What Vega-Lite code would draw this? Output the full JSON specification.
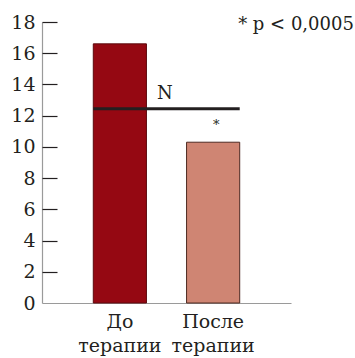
{
  "$schema": "https://vega.github.io/schema/vega-lite/v6.json",
  "autosize": "none",
  "width": 249,
  "height": 281,
  "padding": {"left": 42, "top": 22, "right": 64, "bottom": 55},
  "background": "white",
  "config": {
    "view": {"stroke": null},
    "font": "DejaVu Serif",
    "text": {"font": "DejaVu Serif"},
    "axis": {"labelFont": "DejaVu Serif", "labelColor": "#231f20", "grid": false, "title": null}
  },
  "datasets": {
    "bars": [
      {"group": "До терапии", "value": 16.6},
      {"group": "После терапии", "value": 10.3}
    ],
    "ticks": [
      {"value": 0}, {"value": 18}
    ],
    "norm": [
      {"from": "До терапии", "to": "После терапии", "value": 12.45, "label": "N"}
    ],
    "notes": [
      {"group": "После терапии", "value": 10.3, "label": "*"}
    ],
    "sig": [
      {"group": "После терапии", "value": 18, "label": "* p < 0,0005"}
    ]
  },
  "resolve": {"axis": {"y": "independent"}},
  "layer": [
    {
      "data": {"name": "bars"},
      "mark": {"type": "bar", "strokeWidth": 1},
      "encoding": {
        "x": {
          "field": "group", "type": "nominal", "sort": null,
          "scale": {"paddingInner": 0.43, "paddingOuter": 0.55},
          "axis": {
            "labelAngle": 0, "ticks": false, "domainColor": "#9a9a9a", "domainWidth": 1.2,
            "labelFontSize": 19, "labelPadding": 9, "labelLineHeight": 24,
            "labelExpr": "split(datum.label, ' ')"
          }
        },
        "y": {
          "field": "value", "type": "quantitative",
          "scale": {"domain": [0, 18], "nice": false},
          "axis": {
            "values": [0, 2, 4, 6, 8, 10, 12, 14, 16, 18],
            "labelOverlap": false,
            "domainColor": "#9a9a9a", "domainWidth": 1.2,
            "ticks": false,
            "labelFontSize": 19, "labelPadding": 7
          }
        },
        "fill": {
          "field": "group", "type": "nominal", "legend": null,
          "scale": {"domain": ["До терапии", "После терапии"], "range": ["#950812", "#cf8573"]}
        },
        "stroke": {
          "field": "group", "type": "nominal", "legend": null,
          "scale": {"domain": ["До терапии", "После терапии"], "range": ["#5c0a0e", "#4e2a22"]}
        }
      }
    },
    {
      "data": {"name": "ticks"},
      "mark": {"type": "point", "opacity": 0},
      "encoding": {
        "y": {
          "field": "value", "type": "quantitative",
          "axis": {
            "orient": "left",
            "values": [2, 4, 6, 8, 10, 12, 14, 16, 18],
            "offset": -15, "domain": false, "labels": false,
            "tickSize": 15, "tickWidth": 1.2, "tickColor": "#231f20"
          }
        }
      }
    },
    {
      "data": {"name": "norm"},
      "mark": {"type": "rule", "strokeWidth": 3, "color": "#231f20"},
      "encoding": {
        "x": {"field": "from", "type": "nominal", "bandPosition": 0},
        "x2": {"field": "to", "bandPosition": 1},
        "y": {"field": "value", "type": "quantitative", "axis": null}
      }
    },
    {
      "data": {"name": "norm"},
      "mark": {"type": "text", "fontSize": 18, "align": "center", "baseline": "alphabetic", "dx": 45, "dy": -10, "color": "#231f20"},
      "encoding": {
        "x": {"field": "from", "type": "nominal"},
        "y": {"field": "value", "type": "quantitative", "axis": null},
        "text": {"field": "label"}
      }
    },
    {
      "data": {"name": "notes"},
      "mark": {"type": "text", "fontSize": 13, "align": "center", "baseline": "alphabetic", "dx": 3, "dy": -13, "color": "#231f20"},
      "encoding": {
        "x": {"field": "group", "type": "nominal"},
        "y": {"field": "value", "type": "quantitative", "axis": null},
        "text": {"field": "label"}
      }
    },
    {
      "data": {"name": "sig"},
      "mark": {"type": "text", "fontSize": 18, "align": "left", "baseline": "alphabetic", "dx": 25, "dy": 8, "color": "#231f20"},
      "encoding": {
        "x": {"field": "group", "type": "nominal"},
        "y": {"field": "value", "type": "quantitative", "axis": null},
        "text": {"field": "label"}
      }
    }
  ]
}
